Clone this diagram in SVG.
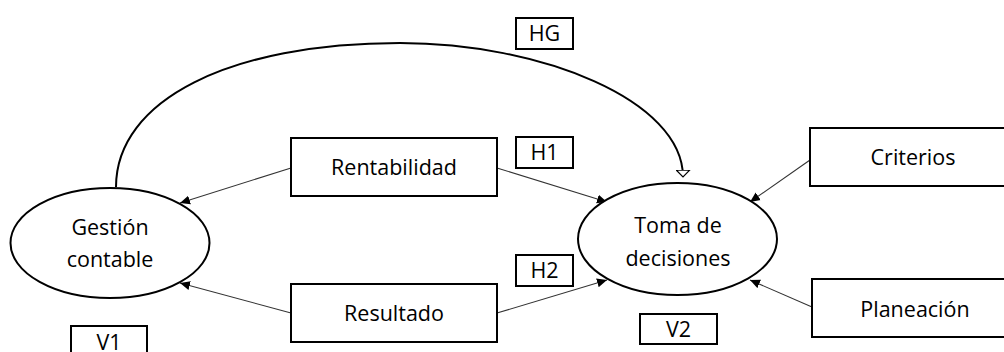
<svg xmlns="http://www.w3.org/2000/svg" width="1004" height="352" viewBox="0 0 1004 352">
<style>
.box{fill:#fff;stroke:#000;stroke-width:2}
.ell{fill:#fff;stroke:#000;stroke-width:2}
.t{font-family:"Open Sans","Noto Sans",sans-serif;font-size:21.5px;fill:#000;text-anchor:middle}
.c{fill:none;stroke:#333;stroke-width:1.1}
.arc{fill:none;stroke:#000;stroke-width:2}
</style>
<defs>
<marker id="fa" viewBox="0 0 10 10" refX="10" refY="5" markerWidth="10" markerHeight="10" markerUnits="userSpaceOnUse" orient="auto">
<path d="M0,0.5 L10,5 L0,9.5 Z" fill="#000"/>
</marker>
<marker id="ha" viewBox="0 0 8 15" refX="7.5" refY="7.5" markerWidth="8" markerHeight="15" markerUnits="userSpaceOnUse" orient="auto">
<path d="M0.6,0.8 L7.4,7.5 L0.6,14.2 Z" fill="#fff" stroke="#000" stroke-width="1.2"/>
</marker>
</defs>
<g id="connectors">
<path class="arc" d="M116,187 C116,100 230,43 400,43 C540,43 683,100 683,177" marker-end="url(#ha)"/>
<line class="c" x1="291" y1="168" x2="180" y2="203" marker-end="url(#fa)"/>
<line class="c" x1="291" y1="313" x2="180" y2="283" marker-end="url(#fa)"/>
<line class="c" x1="497" y1="168" x2="607" y2="202" marker-end="url(#fa)"/>
<line class="c" x1="497" y1="313" x2="607" y2="280" marker-end="url(#fa)"/>
<line class="c" x1="810" y1="160" x2="750" y2="202" marker-end="url(#fa)"/>
<line class="c" x1="812" y1="307" x2="750" y2="280" marker-end="url(#fa)"/>
</g>
<g id="gestion">
<ellipse class="ell" cx="110" cy="243" rx="99.5" ry="55"/>
<text class="t" x="110" y="235">Gestión</text>
<text class="t" x="110" y="267">contable</text>
</g>
<g id="toma">
<ellipse class="ell" cx="677.5" cy="239" rx="99.5" ry="56"/>
<text class="t" x="678" y="233">Toma de</text>
<text class="t" x="678" y="266">decisiones</text>
</g>
<g id="rentabilidad">
<rect class="box" x="291" y="138" width="206" height="58"/>
<text class="t" x="394" y="175">Rentabilidad</text>
</g>
<g id="resultado">
<rect class="box" x="291" y="284" width="206" height="58"/>
<text class="t" x="394" y="321">Resultado</text>
</g>
<g id="criterios">
<rect class="box" x="810" y="128" width="200" height="58"/>
<text class="t" x="913" y="165">Criterios</text>
</g>
<g id="planeacion">
<rect class="box" x="812" y="279" width="200" height="58"/>
<text class="t" x="915" y="317">Planeación</text>
</g>
<g id="hg">
<rect class="box" x="516" y="18" width="57" height="31"/>
<text class="t" x="544.5" y="41">HG</text>
</g>
<g id="h1">
<rect class="box" x="516" y="137" width="57" height="31"/>
<text class="t" x="544.5" y="160">H1</text>
</g>
<g id="h2">
<rect class="box" x="516" y="255" width="57" height="31"/>
<text class="t" x="544.5" y="278">H2</text>
</g>
<g id="v2">
<rect class="box" x="640" y="314" width="77" height="30"/>
<text class="t" x="678.5" y="337">V2</text>
</g>
<g id="v1">
<rect class="box" x="71" y="326" width="76" height="32"/>
<text class="t" x="109" y="350">V1</text>
</g>
</svg>
